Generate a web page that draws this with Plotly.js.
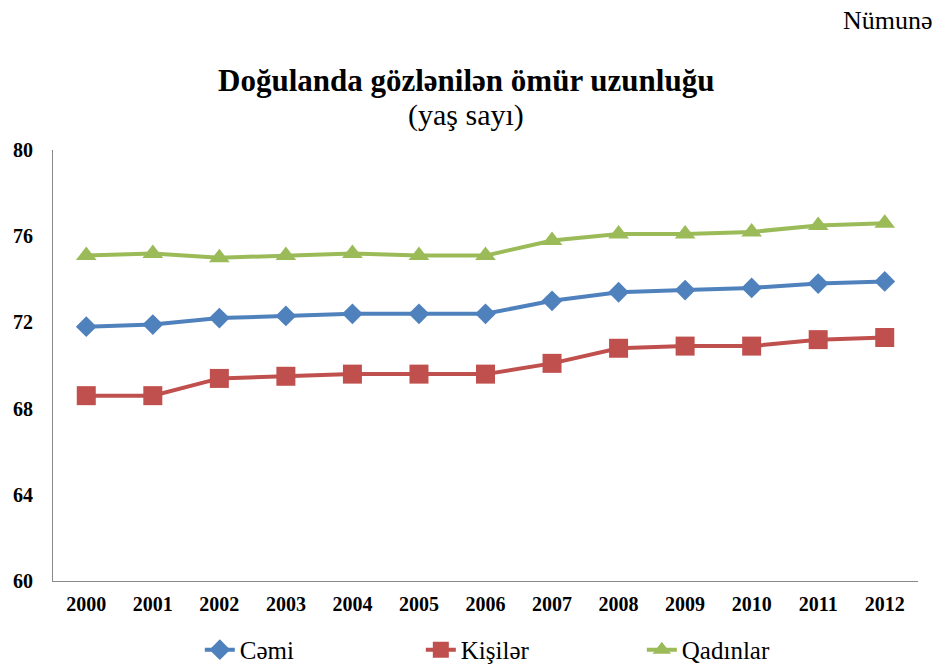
<!DOCTYPE html>
<html><head><meta charset="utf-8">
<script src="https://cdn.plot.ly/plotly-3.0.1.min.js"></script>
<style>html,body{margin:0;padding:0;background:#fff;}#c{width:947px;height:668px;}</style>
</head><body><div id="c"></div>
<script>
const years = ['2000','2001','2002','2003','2004','2005','2006','2007','2008','2009','2010','2011','2012'];
const cemi = [71.8, 71.9, 72.2, 72.3, 72.4, 72.4, 72.4, 73.0, 73.4, 73.5, 73.6, 73.8, 73.9];
const kisiler = [68.6, 68.6, 69.4, 69.5, 69.6, 69.6, 69.6, 70.1, 70.8, 70.9, 70.9, 71.2, 71.3];
const qadinlar = [75.1, 75.2, 75.0, 75.1, 75.2, 75.1, 75.1, 75.8, 76.1, 76.1, 76.2, 76.5, 76.6];
const names = ['Cəmi', 'Kişilər', 'Qadınlar'];
const yTicks = [60, 64, 68, 72, 76, 80];

const serif = "'Liberation Serif', 'Times New Roman', serif";
const traces = [
  {x: years, y: cemi, name: names[0], mode: 'lines+markers',
   line: {color: '#4F81BD', width: 4}, marker: {symbol: 'diamond', size: 16, color: '#4F81BD'}},
  {x: years, y: kisiler, name: names[1], mode: 'lines+markers',
   line: {color: '#C0504D', width: 4}, marker: {symbol: 'square', size: 19, color: '#C0504D'}},
  {x: years, y: qadinlar, name: names[2], mode: 'lines+markers',
   line: {color: '#9BBB59', width: 4}, marker: {symbol: 'triangle-up', size: 18, color: '#9BBB59'}}
];
const layout = {
  width: 947, height: 668,
  margin: {l: 53, r: 29, t: 150, b: 87},
  paper_bgcolor: '#fff', plot_bgcolor: '#fff',
  font: {family: serif, color: '#000'},
  showlegend: true,
  legend: {orientation: 'h', xref: 'container', yref: 'container', x: 0.211, xanchor: 'left',
           y: 0.027, yanchor: 'middle', bgcolor: 'rgba(0,0,0,0)',
           font: {family: serif, size: 25, color: '#000'}, entrywidth: 176, itemwidth: 30},
  xaxis: {type: 'category', range: [-0.5, 12.5], showline: true, linecolor: '#888', linewidth: 1,
          ticks: '', showgrid: false, zeroline: false,
          tickfont: {family: serif, size: 20, color: '#000', weight: 'bold'}, ticklabelstandoff: 5},
  yaxis: {range: [60, 80], tickvals: yTicks, ticktext: yTicks.map(String), showline: true, linecolor: '#888',
          linewidth: 1, ticks: '', showgrid: false, zeroline: false,
          tickfont: {family: serif, size: 20, color: '#000', weight: 'bold'}, ticklabelstandoff: 15},
  annotations: [
    {text: '<b>Doğulanda gözlənilən ömür uzunluğu</b>', xref: 'paper', yref: 'paper', x: 0.478, y: 1,
     yanchor: 'middle', yshift: 70, showarrow: false, font: {family: serif, size: 31, color: '#000'}},
    {text: '(yaş sayı)', xref: 'paper', yref: 'paper', x: 0.478, y: 1, yanchor: 'middle', yshift: 35,
     showarrow: false, font: {family: serif, size: 30, color: '#000'}},
    {text: 'Nümunə', xref: 'paper', yref: 'paper', x: 1, xanchor: 'right', xshift: 17, y: 1,
     yanchor: 'middle', yshift: 130, showarrow: false, font: {family: serif, size: 26, color: '#000'}}
  ]
};
Plotly.newPlot('c', traces, layout, {displayModeBar: false, staticPlot: true});
</script></body></html>
